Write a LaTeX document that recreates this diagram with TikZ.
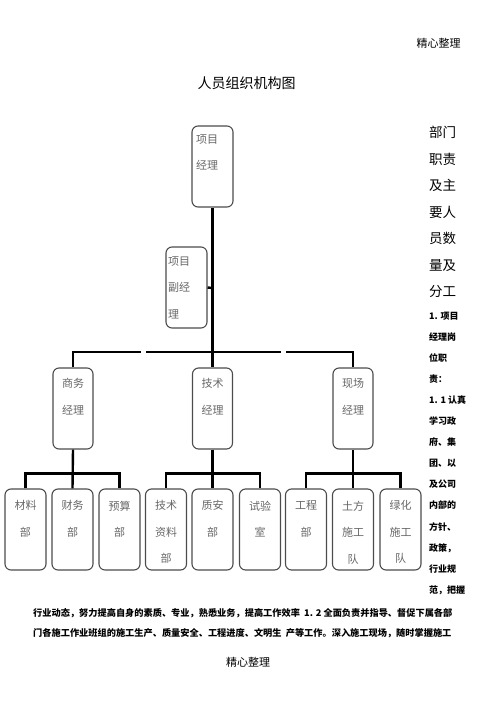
\documentclass[tikz,border=0pt]{standalone}
\usepackage{fontspec}
\setmainfont{Noto Sans CJK SC}
\usetikzlibrary{calc}
\begin{document}
\begin{tikzpicture}[x=1pt,y=-1pt,
  box/.style={draw=black!70,line width=1.1pt,rounded corners=6pt,minimum width=41pt,minimum height=81pt,inner sep=0pt},
  boxtxt/.style={text=black!60,inner sep=0pt,font=\fontsize{11}{26.5}\selectfont},
  link/.style={line width=2.4pt,black},
  big/.style={inner sep=0pt,anchor=north west,align=left,font=\fontsize{13.5}{26.5}\selectfont},
  small/.style={inner sep=0pt,anchor=north west,align=left,font=\fontsize{9}{21.1}\selectfont\bfseries},
  para/.style={inner sep=0pt,anchor=west,font=\fontsize{9.2}{12}\selectfont\bfseries}]
\useasboundingbox (0,0) rectangle (500,708);
% headers
\node[inner sep=0pt,font=\fontsize{11}{12}\selectfont] (hdr) at (438.5,43) {精心整理};
\node[inner sep=0pt,font=\fontsize{14}{16}\selectfont] (title) at (246.5,83) {人员组织机构图};
% top boxes
\node[box] (pm) at (212.5,166.5) {};
\node[boxtxt,anchor=north west,align=left] (pmt) at (196,134.5) {项目\\经理};
\node[box] (vpm) at (186.5,287.5) {};
\node[boxtxt,anchor=north west,align=left] (vpmt) at (168,256.5) {项目\\副经\\理};
% middle managers
\node[box,minimum width=40pt] (m1) at (73,408.5) {};
\node[box,minimum width=40pt] (m2) at (212.5,408.5) {};
\node[box,minimum width=40pt] (m3) at (353,408.5) {};
\node[boxtxt,anchor=north,align=center] (m1t) at (73,378.5) {商务\\经理};
\node[boxtxt,anchor=north,align=center] (m2t) at (212.5,378.5) {技术\\经理};
\node[boxtxt,anchor=north,align=center] (m3t) at (353,378.5) {现场\\经理};
% bottom departments
\foreach \n/\x/\t in {d1/25.5/{材料\\部},d2/72.5/{财务\\部},d3/119.5/{预算\\部},
  d4/166/{技术\\资料\\部},d5/212.5/{质安\\部},d6/260/{试验\\室},
  d7/306/{工程\\部},d8/353/{土方\\施工\\队},d9/400.5/{绿化\\施工\\队}}{
  \node[box] (\n) at (\x,529.5) {};
  \node[boxtxt,anchor=north,align=center] (\n t) at (\x,500.5) {\t};
}
% connectors
\coordinate (vj) at (212.5,288);
\coordinate (bj) at (212.5,352);
\coordinate (g1a) at (141,352);
\coordinate (g1b) at (146,352);
\coordinate (g2a) at (281,352);
\coordinate (g2b) at (286,352);
\draw[link] (pm.south) -- (vj);
\draw[link] (vj) -- (bj);
\draw[link] (bj) -- (m2.north);
\draw[link] (vpm.east) -- (vj);
\draw[link] (m1.north) |- (g1a);
\draw[link] (g1b) -- (g2a);
\draw[link] (g2b) -| (m3.north);
\foreach \m/\a/\b/\c in {m1/d1/d2/d3,m2/d4/d5/d6,m3/d7/d8/d9}{
  \coordinate (\m s) at ($(\m.south)+(0,24)$);
  \draw[link] (\m.south) -- (\b.north);
  \draw[link] (\a.north) |- (\m s) -| (\c.north);
}
% right column
\node[big] (rc) at (429,126) {部门\\职责\\及主\\要人\\员数\\量及\\分工};
\node[small] (rs) at (429,311.5) {1. 项目\\经理岗\\位职\\责：\\1. 1 认真\\学习政\\府、集\\团、以\\及公司\\内部的\\方针、\\政策，\\行业规\\范，把握};
% bottom paragraph
\node[para] (p1) at (33,613) {行业动态，努力提高自身的素质、专业，熟悉业务，提高工作效率 \ 1. 2 全面负责并指导、督促下属各部};
\node[para] (p2) at (33,633) {门各施工作业班组的施工生产、质量安全、工程进度、文明生 \ 产等工作。深入施工现场，随时掌握施工};
\node[inner sep=0pt,font=\fontsize{11}{12}\selectfont] (ftr) at (248,662) {精心整理};
\end{tikzpicture}
\end{document}
